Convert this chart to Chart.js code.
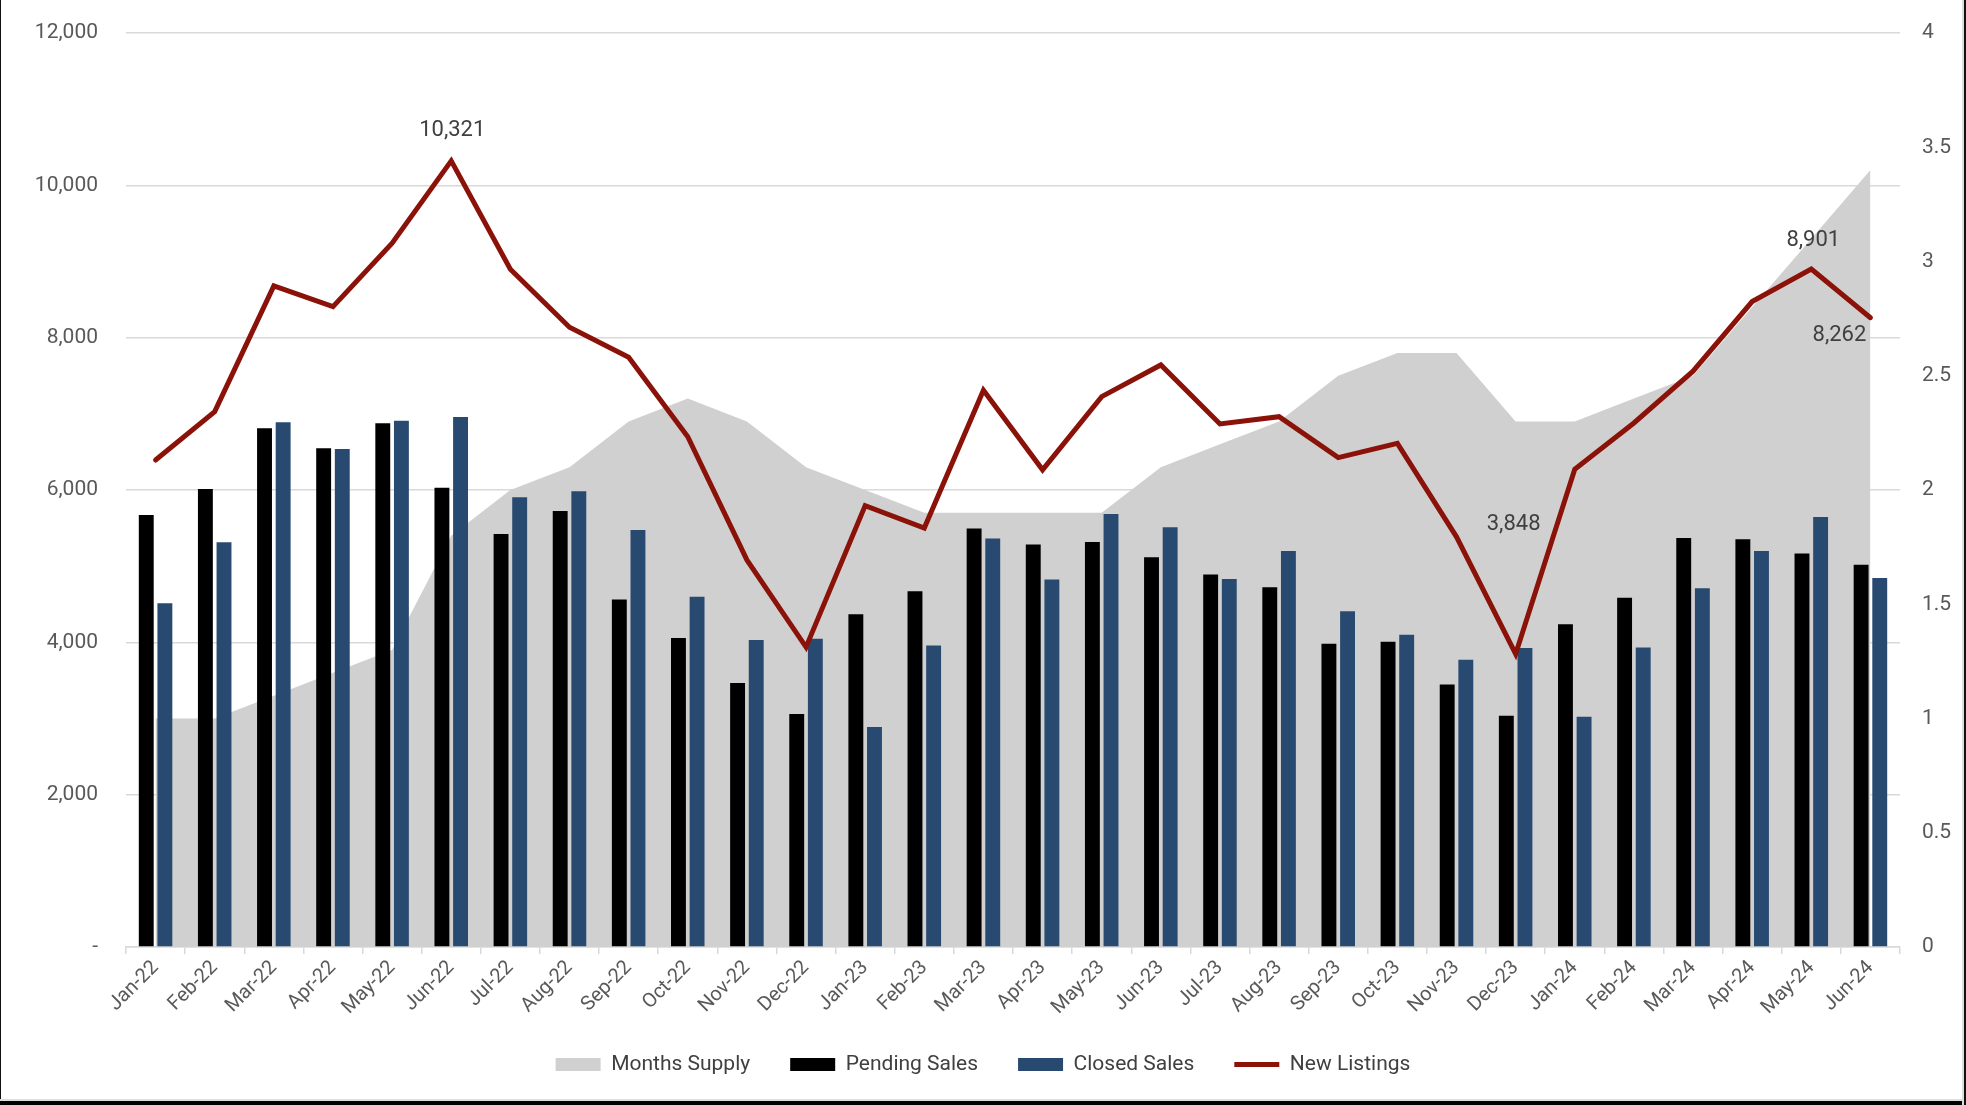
<!DOCTYPE html>
<html>
<head>
<meta charset="utf-8">
<script src="https://cdn.jsdelivr.net/npm/chart.js@4.4.1/dist/chart.umd.min.js"></script>
<style>
  html, body { margin: 0; padding: 0; background: #fff; }
  #wrap { position: relative; width: 1966px; height: 1105px; overflow: hidden; }
  #c { position: absolute; left: 0; top: 0; }
  .b { position: absolute; pointer-events: none; }
</style>
</head>
<body>
<div id="wrap">
  <canvas id="c" width="1966" height="1105"></canvas>
  <div class="b" style="left:0;top:0;width:1px;height:1105px;background:#111;"></div>
  <div class="b" style="left:0;top:1099px;width:1966px;height:2px;background:#ddd;"></div>
  <div class="b" style="left:0;top:1101px;width:1966px;height:4px;background:#000;"></div>
  <div class="b" style="left:1962px;top:0;width:2px;height:1105px;background:#ddd;"></div>
  <div class="b" style="left:1964px;top:0;width:2px;height:1105px;background:#111;"></div>
</div>
<script>
const months = ["Jan-22","Feb-22","Mar-22","Apr-22","May-22","Jun-22","Jul-22","Aug-22","Sep-22","Oct-22","Nov-22","Dec-22",
                "Jan-23","Feb-23","Mar-23","Apr-23","May-23","Jun-23","Jul-23","Aug-23","Sep-23","Oct-23","Nov-23","Dec-23",
                "Jan-24","Feb-24","Mar-24","Apr-24","May-24","Jun-24"];
const monthsSupply = [1.0,1.0,1.1,1.2,1.3,1.8,2.0,2.1,2.3,2.4,2.3,2.1,
                      2.0,1.9,1.9,1.9,1.9,2.1,2.2,2.3,2.5,2.6,2.6,2.3,
                      2.3,2.4,2.5,2.8,3.1,3.4];
const pendingSales = [5672,6013,6810,6547,6875,6031,5423,5725,4562,4058,3465,3059,
                      4370,4672,5493,5283,5318,5117,4890,4724,3981,4007,3448,3037,
                      4239,4584,5371,5353,5165,5017];
const closedSales = [4514,5314,6889,6538,6910,6959,5904,5983,5476,4597,4029,4047,
                     2889,3959,5362,4824,5685,5511,4833,5200,4409,4099,3771,3924,
                     3024,3933,4711,5200,5646,4846];
const newListings = [6394,7029,8680,8408,9241,10321,8899,8137,7743,6700,5082,3937,
                     5795,5500,7310,6265,7226,7642,6867,6963,6425,6613,5385,3848,
                     6271,6880,7560,8474,8901,8262];
const leftTicks = [0,2000,4000,6000,8000,10000,12000];
const rightTicks = [0,0.5,1,1.5,2,2.5,3,3.5,4];
// annotated points: index -> label offset
const annotated = [5, 23, 28, 29];
const annotOffsets = {5:[1,-30], 23:[-2,-129], 28:[2,-29], 29:[-31,18]};

const FONT = "Roboto, 'Liberation Sans', sans-serif";

const labelPlugin = {
  id: 'pointLabels',
  afterDatasetsDraw(chart) {
    const meta = chart.getDatasetMeta(3);
    const ctx = chart.ctx;
    ctx.save();
    ctx.font = "22px " + FONT;
    ctx.fillStyle = '#404040';
    ctx.textAlign = 'center';
    ctx.textBaseline = 'middle';
    annotated.forEach(i => {
      const p = meta.data[i];
      const off = annotOffsets[i];
      ctx.fillText(newListings[i].toLocaleString('en-US'), p.x + off[0], p.y + off[1]);
    });
    ctx.restore();
  }
};

new Chart(document.getElementById('c'), {
  type: 'bar',
  data: {
    labels: months,
    datasets: [
      {
        type: 'line', label: 'Months Supply', data: monthsSupply, yAxisID: 'y1',
        fill: 'origin', backgroundColor: '#d0d0d0', borderWidth: 0, borderColor: '#d0d0d0',
        pointRadius: 0, tension: 0, order: 3, pointStyle: 'rect'
      },
      {
        label: 'Pending Sales', data: pendingSales, yAxisID: 'y',
        backgroundColor: '#000000', borderWidth: 0, order: 2, pointStyle: 'rect',
        categoryPercentage: 0.63, barPercentage: 0.8
      },
      {
        label: 'Closed Sales', data: closedSales, yAxisID: 'y',
        backgroundColor: '#284a70', borderWidth: 0, order: 2, pointStyle: 'rect',
        categoryPercentage: 0.63, barPercentage: 0.8
      },
      {
        type: 'line', label: 'New Listings', data: newListings, yAxisID: 'y',
        borderColor: '#8b1209', backgroundColor: '#8b1209', borderWidth: 5, fill: false,
        pointRadius: 0, tension: 0, order: 1, pointStyle: 'line',
        borderCapStyle: 'round', borderJoinStyle: 'miter'
      }
    ]
  },
  options: {
    responsive: false,
    animation: false,
    devicePixelRatio: 1,
    layout: { padding: { top: 33, bottom: 20, left: 0, right: 0 } },
    plugins: {
      legend: {
        position: 'bottom',
        labels: {
          usePointStyle: true, pointStyleWidth: 45, boxHeight: 13, padding: 40,
          color: '#404040', font: { family: FONT, size: 21 },
          sort: (a, b) => a.datasetIndex - b.datasetIndex
        }
      },
      tooltip: { enabled: false }
    },
    scales: {
      x: {
        offset: true,
        grid: { drawOnChartArea: false, drawTicks: true, tickLength: 7, color: '#d9d9d9', lineWidth: 1.5, offset: true },
        border: { display: true, color: '#d9d9d9', width: 1.5 },
        ticks: { color: '#595959', font: { family: FONT, size: 20 }, minRotation: 45, maxRotation: 45, padding: 2, autoSkip: false },
        afterFit: (s) => { s.height = 67; }
      },
      y: {
        position: 'left', min: 0, max: 12000,
        afterBuildTicks: (s) => { s.ticks = leftTicks.map(v => ({ value: v })); },
        grid: { color: '#d9d9d9', lineWidth: 1.5, drawTicks: true, tickLength: 25, tickColor: 'rgba(0,0,0,0)' },
        border: { display: false },
        ticks: {
          color: '#595959', font: { family: FONT, size: 21 }, padding: 3,
          callback: (v) => v === 0 ? '-' : Number(v).toLocaleString('en-US')
        },
        afterFit: (s) => { s.width = 126; }
      },
      y1: {
        position: 'right', min: 0, max: 4,
        afterBuildTicks: (s) => { s.ticks = rightTicks.map(v => ({ value: v })); },
        grid: { display: true, drawOnChartArea: false, drawTicks: true, tickLength: 19, tickColor: 'rgba(0,0,0,0)' },
        border: { display: false },
        ticks: { color: '#595959', font: { family: FONT, size: 21 }, padding: 3,
          callback: (v) => String(v) },
        afterFit: (s) => { s.width = 66; }
      }
    }
  },
  plugins: [labelPlugin]
});
</script>
</body>
</html>
